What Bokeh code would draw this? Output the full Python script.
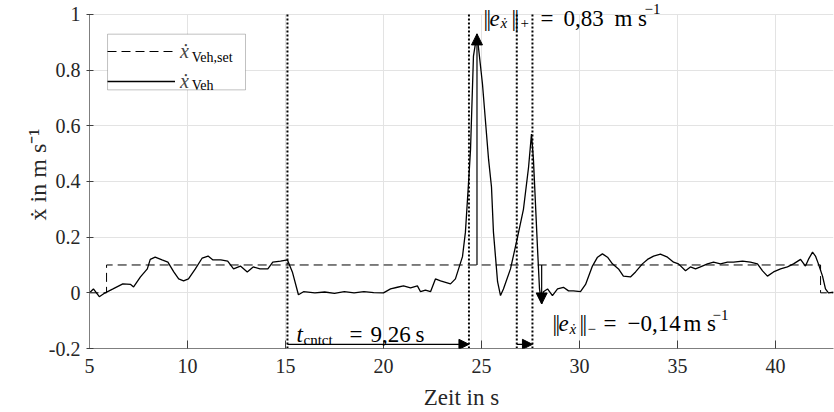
from bokeh.plotting import figure
from bokeh.models import Range1d, FixedTicker, Arrow, NormalHead, Label, Legend, LegendItem, BoxAnnotation
from bokeh.embed import file_html
from bokeh.resources import INLINE

# ---------------- data ----------------
t_veh = [5.0, 5.2, 5.5, 5.8, 6.2, 6.7, 7.1, 7.25, 7.6, 7.95,
         8.1, 8.35, 8.7, 9.0, 9.3, 9.55, 9.8, 10.05, 10.4, 10.75,
         11.05, 11.3, 11.7, 12.05, 12.35, 12.7, 13.05, 13.35, 13.7, 14.1,
         14.35, 14.75, 15.1, 15.35, 15.66, 15.92, 16.5, 17.0, 17.5, 18.0,
         18.5, 19.0, 19.5, 20.0, 20.36, 20.71, 21.02, 21.38, 21.73, 21.89,
         22.14, 22.4, 22.65, 22.91, 23.42, 23.67, 24.03, 24.18, 24.34, 24.44,
         24.59, 24.77, 25.05, 25.36, 25.51, 25.61, 25.82, 25.97, 26.12, 26.48,
         26.84, 27.14, 27.4, 27.55, 27.65, 27.86, 27.96, 28.07, 28.16, 28.37,
         28.62, 28.88, 29.18, 29.44, 29.69, 30.05, 30.31, 30.66, 30.92, 31.17,
         31.43, 31.68, 31.99, 32.24, 32.6, 32.86, 33.21, 33.47, 33.78, 34.13,
         34.49, 34.8, 35.05, 35.41, 35.66, 35.92, 36.17, 36.53, 36.84, 37.19,
         37.55, 37.86, 38.32, 38.72, 39.08, 39.34, 39.59, 39.9, 40.26, 40.61,
         40.92, 41.28, 41.53, 41.68, 41.89, 42.04, 42.19, 42.4, 42.55, 42.7,
         42.96]
v_veh = [0.0, 0.014, -0.014, 0.0, 0.014, 0.032, 0.03, 0.021, 0.057, 0.086,
         0.12, 0.128, 0.118, 0.11, 0.075, 0.05, 0.043, 0.05, 0.086, 0.125,
         0.132, 0.118, 0.118, 0.114, 0.086, 0.096, 0.075, 0.093, 0.086, 0.086,
         0.11, 0.114, 0.118, 0.075, -0.007, 0.004, 0.0, 0.003, -0.002, 0.004,
         0.0, 0.004, 0.001, 0.0, 0.014, 0.02, 0.025, 0.018, 0.025, 0.004,
         0.01, 0.004, 0.05, 0.043, 0.032, 0.05, 0.13, 0.218, 0.396, 0.514,
         0.85, 0.93, 0.75, 0.48, 0.38, 0.218, 0.04, -0.01, 0.014, 0.086,
         0.2, 0.3, 0.45, 0.57, 0.48, 0.157, 0.014, -0.04, 0.004, 0.014,
         -0.01, 0.014, 0.02, 0.007, 0.007, 0.004, 0.03, 0.096, 0.128, 0.14,
         0.128, 0.104, 0.086, 0.06, 0.057, 0.075, 0.104, 0.12, 0.132, 0.139,
         0.128, 0.11, 0.104, 0.079, 0.093, 0.086, 0.093, 0.104, 0.11, 0.104,
         0.11, 0.11, 0.114, 0.11, 0.104, 0.079, 0.06, 0.075, 0.086, 0.093,
         0.104, 0.12, 0.096, 0.12, 0.146, 0.132, 0.104, 0.06, 0.014, 0.0,
         0.002]
t_set = [5.0, 5.87, 5.87, 42.3, 42.3, 42.96]
v_set = [0.0, 0.0, 0.1, 0.1, 0.0, 0.0]

t_events = [15.1, 24.36, 26.8, 27.6]   # dotted markers
t_peak = 24.77                         # time of max deviation
t_min = 28.07                          # time of min deviation
v_ref = 0.1
e_plus = 0.83
e_minus = -0.14
y_arrow = -0.185

x_lim = (5, 42.96)
y_lim = (-0.2, 1.0)
x_ticks = [5, 10, 15, 20, 25, 30, 35, 40]
y_ticks = [-0.2, 0, 0.2, 0.4, 0.6, 0.8, 1]
y_tick_labels = ["-0.2", "0", "0.2", "0.4", "0.6", "0.8", "1"]

FONT = "Liberation Serif"
GRID = "#e3e3e3"

# ---------------- figure ----------------
# a little head-room above y=1 so the top annotation can sit above the axes box
p = figure(width=834, height=412, output_backend="svg", toolbar_location=None,
           x_range=Range1d(*x_lim), y_range=Range1d(y_lim[0], 1.05),
           min_border_left=89, min_border_right=1, min_border_top=0, min_border_bottom=62)
p.outline_line_color = None
p.background_fill_color = "white"

for ax in (p.xaxis[0], p.yaxis[0]):
    ax.axis_line_color = "#7f7f7f"
    ax.major_tick_line_color = "#404040"
    ax.minor_tick_line_color = None
    ax.major_label_text_font = FONT
    ax.major_label_text_font_size = "20px"
    ax.major_label_text_color = "#262626"
    ax.axis_label_text_font = FONT
    ax.axis_label_text_font_style = "normal"
    ax.axis_label_text_color = "#262626"

p.yaxis.bounds = y_lim
p.xaxis.axis_label_text_font_size = "23px"
p.yaxis.axis_label_text_font_size = "24px"
p.xaxis.ticker = FixedTicker(ticks=x_ticks)
p.yaxis.ticker = FixedTicker(ticks=y_ticks)
p.yaxis.major_label_overrides = {t: l for t, l in zip(y_ticks, y_tick_labels)}
p.xaxis.axis_label = "Zeit in s"
p.yaxis.axis_label = "ẋ in m s⁻¹"
p.xaxis.major_tick_in = 8
p.xaxis.major_tick_out = 0
p.yaxis.major_tick_in = 4
p.yaxis.major_tick_out = 3
p.xaxis.major_label_standoff = 10
p.xaxis.axis_label_standoff = 9
p.yaxis.major_label_standoff = 6
p.yaxis.axis_label_standoff = -5

# grid: horizontal lines via grid, vertical lines limited to the axes box
p.ygrid.ticker = FixedTicker(ticks=y_ticks)
p.ygrid.grid_line_color = GRID
p.xgrid.visible = False
p.segment(x0=x_ticks, y0=[y_lim[0]] * len(x_ticks), x1=x_ticks, y1=[y_lim[1]] * len(x_ticks),
          line_color=GRID, line_width=1, level="underlay")

# ---------------- data lines ----------------
r_set = p.line(t_set, v_set, line_color="black", line_dash="9 5", line_width=1)
r_veh = p.line(t_veh, v_veh, line_color="black", line_width=1.3)

p.segment(x0=t_events, y0=[y_lim[0]] * len(t_events), x1=t_events, y1=[y_lim[1]] * len(t_events),
          line_color="black", line_dash="2 2", line_width=2)

def arrow(x0, y0, x1, y1, size):
    p.add_layout(Arrow(end=NormalHead(size=size, fill_color="black", line_color="black", line_width=1),
                       x_start=x0, y_start=y0, x_end=x1, y_end=y1,
                       line_color="black", line_width=1.2))

arrow(t_peak, v_ref, t_peak, v_ref + e_plus, 11)
arrow(t_min, v_ref, t_min, v_ref + e_minus, 11)
arrow(t_events[0], y_arrow, t_events[1], y_arrow, 10)
arrow(t_events[2], y_arrow, t_events[3], y_arrow, 10)

# ---------------- rich text helper ----------------
def txt(x, y, text, dx=0, dy=0, size=23, italic=False, baseline="alphabetic"):
    p.add_layout(Label(x=x, y=y, x_offset=dx, y_offset=dy,
                       text=text, text_font=FONT, text_font_size=f"{size}px",
                       text_font_style="italic" if italic else "normal",
                       text_color="black", text_baseline=baseline, text_align="left",
                       level="overlay"))

def norm_bar(x, y, dx):
    txt(x, y, "|", dx)
    txt(x, y, "|", dx + 3)

# ||e||+ = 0,83 m s^-1
ax0, ay0 = 25.10, 0.986
norm_bar(ax0, ay0, 0)
txt(ax0, ay0, "e", 6, italic=True)
txt(ax0, ay0, "ẋ", 17, -5, size=15, italic=True)
norm_bar(ax0, ay0, 28)
txt(ax0, ay0, "+", 37, -5, size=15)
txt(ax0, ay0, "=", 57)
txt(ax0, ay0, "0,83", 80)
txt(ax0, ay0, "m s", 131)
txt(ax0, ay0, "−1", 161, 9, size=15)

# ||e||- = -0,14 m s^-1
bx0, by0 = 28.62, -0.111
norm_bar(bx0, by0, 0)
txt(bx0, by0, "e", 6, italic=True)
txt(bx0, by0, "ẋ", 17, -5, size=15, italic=True)
norm_bar(bx0, by0, 27)
txt(bx0, by0, "−", 35, -5, size=15)
txt(bx0, by0, "=", 51)
txt(bx0, by0, "−0,14", 75)
txt(bx0, by0, "m s", 131)
txt(bx0, by0, "−1", 160, 9, size=15)

# t_cntct = 9,26 s
cx0, cy0 = 15.56, -0.15
txt(cx0, cy0, "t", 0, italic=True)
txt(cx0, cy0, "cntct", 7, -5, size=15)
txt(cx0, cy0, "=", 53)
txt(cx0, cy0, "9,26", 74)
txt(cx0, cy0, "s", 119)

# ---------------- legend ----------------
# white framed box behind the (transparent) legend
p.add_layout(BoxAnnotation(left=5.92, right=12.96, top=0.929, bottom=0.729,
                           fill_color="white", fill_alpha=1,
                           line_color="#333333", line_width=1, level="glyph"))
legend = Legend(items=[LegendItem(label="ẋ", renderers=[r_set]),
                       LegendItem(label="ẋ", renderers=[r_veh])],
                location=(18, 255), margin=0, padding=2, spacing=6,
                glyph_width=68, glyph_height=24, label_height=24, label_width=61,
                label_standoff=5, label_text_font=FONT, label_text_font_size="20px",
                label_text_font_style="italic",
                border_line_color=None, background_fill_alpha=0)
p.add_layout(legend)
txt(10.22, 0.846, "Veh,set", 0, 0, size=14, baseline="middle")
txt(10.22, 0.743, "Veh", 0, 0, size=14, baseline="middle")

open("out.html", "w").write(file_html(p, INLINE))
